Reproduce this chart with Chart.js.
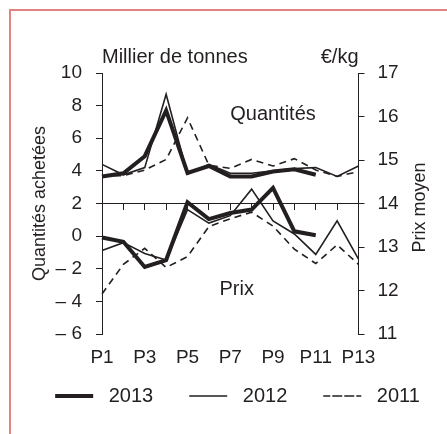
<!DOCTYPE html>
<html>
<head>
<meta charset="utf-8">
<script src="https://cdn.jsdelivr.net/npm/chart.js@4/dist/chart.umd.min.js"></script>
<style>
    body { margin: 0; background: #fff; }
    #wrap { position: relative; width: 447px; height: 434px; overflow: hidden; }
    #frame { position: absolute; left: 9px; top: 9px; width: 600px; height: 600px;
             border-left: 2px solid #e4827f; border-top: 2px solid #e4827f; }
    canvas { position: absolute; left: 0; top: 0; }
</style>
</head>
<body>
<div id="wrap">
    <div id="frame"></div>
    <canvas id="chart" width="447" height="434"></canvas>
</div>
<script>
// periodes
const periods = ['P1', 'P2', 'P3', 'P4', 'P5', 'P6', 'P7', 'P8', 'P9', 'P10', 'P11', 'P12', 'P13'];

// Quantites achetees (millier de tonnes) - axe gauche
const qty2013 = [3.66, 3.85, 4.9, 7.7, 3.87, 4.3, 3.66, 3.66, 3.96, 4.1, 3.76, null, null];
const qty2012 = [4.4, 3.76, 4.2, 8.7, 3.8, 4.4, 3.85, 3.85, 4.0, 4.15, 4.2, 3.66, 4.3];
const qty2011 = [3.7, 3.7, 4.05, 4.7, 7.25, 4.35, 4.15, 4.7, 4.3, 4.75, 4.05, 3.66, 3.95];

// Prix moyen (EUR/kg) - axe droit
const prix2013 = [13.22, 13.12, 12.54, 12.7, 14.03, 13.64, 13.78, 13.86, 14.36, 13.36, 13.27, null, null];
const prix2012 = [12.92, 13.1, 12.85, 12.7, 13.86, 13.55, 13.72, 14.33, 13.6, 13.3, 12.83, 13.6, 12.72];
const prix2011 = [11.92, 12.6, 12.97, 12.53, 12.78, 13.47, 13.65, 13.8, 13.48, 12.95, 12.62, 13.05, 12.6];

const years = ['2013', '2012', '2011'];

const INK = '#231f20';
const FONT = "'Liberation Sans', Arial, sans-serif";

const styles = [
    { borderWidth: 4, borderDash: [] },
    { borderWidth: 1.6, borderDash: [] },
    { borderWidth: 1.6, borderDash: [7, 5] }
];

function makeSet(label, data, axis, st) {
    return {
        label: label,
        data: data,
        yAxisID: axis,
        borderColor: INK,
        backgroundColor: 'transparent',
        borderWidth: st.borderWidth,
        borderDash: st.borderDash,
        pointRadius: 0,
        tension: 0,
        fill: false
    };
}

const datasets = [
    makeSet(years[0], qty2013, 'y', styles[0]),
    makeSet(years[1], qty2012, 'y', styles[1]),
    makeSet(years[2], qty2011, 'y', styles[2]),
    makeSet(years[0], prix2013, 'y1', styles[0]),
    makeSet(years[1], prix2012, 'y1', styles[1]),
    makeSet(years[2], prix2011, 'y1', styles[2])
];

// textes libres (titres, etiquettes)
const textPlugin = {
    id: 'texts',
    afterDraw(chart) {
        const ctx = chart.ctx;
        const a = chart.chartArea;
        const sx = chart.scales.x, sy = chart.scales.y;
        const midY = (a.top + a.bottom) / 2;
        ctx.save();
        ctx.fillStyle = INK;
        ctx.textBaseline = 'middle';

        ctx.font = '20px ' + FONT;
        ctx.textAlign = 'left';
        ctx.fillText('Millier de tonnes', a.left, a.top - 16);
        ctx.textAlign = 'right';
        ctx.fillText('€/kg', a.right, a.top - 16);

        ctx.textAlign = 'center';
        ctx.fillText('Quantités', sx.getPixelForValue(8), sy.getPixelForValue(7.45));
        ctx.fillText('Prix', sx.getPixelForValue(6.3), sy.getPixelForValue(-3.3));

        ctx.font = '18px ' + FONT;
        ctx.translate(a.left - 62, midY);
        ctx.rotate(-Math.PI / 2);
        ctx.fillText('Quantités achetées', 0, 0);
        ctx.restore();

        ctx.save();
        ctx.fillStyle = INK;
        ctx.textBaseline = 'middle';
        ctx.textAlign = 'center';
        ctx.font = '18px ' + FONT;
        ctx.translate(a.right + 62, midY + 4);
        ctx.rotate(-Math.PI / 2);
        ctx.fillText('Prix moyen', 0, 0);
        ctx.restore();
    }
};

const tickFont = { family: FONT, size: 19 };

new Chart(document.getElementById('chart'), {
    type: 'line',
    data: { labels: periods, datasets: datasets },
    options: {
        responsive: false,
        animation: false,
        layout: { padding: { top: 73, bottom: 18, left: 16, right: -12 } },
        plugins: {
            tooltip: { enabled: false },
            legend: {
                position: 'bottom',
                title: { display: true, text: '', padding: 0, font: { size: 10, lineHeight: 1.6 } },
                labels: {
                    generateLabels: chart => Chart.defaults.plugins.legend.labels.generateLabels(chart)
                        .filter(item => item.datasetIndex < 3)
                        .map(item => Object.assign(item, { text: ' ' + item.text })),
                    boxWidth: 38,
                    boxHeight: 0,
                    padding: 36,
                    color: INK,
                    font: { family: FONT, size: 20 }
                }
            }
        },
        scales: {
            x: {
                type: 'category',
                position: { y: -6 },
                offset: false,
                grid: { display: false, drawTicks: false },
                border: { display: false },
                ticks: {
                    autoSkip: false,
                    maxRotation: 0,
                    padding: 12,
                    color: INK,
                    font: tickFont,
                    callback: (v, i) => (i % 2 === 0 ? periods[i] : '')
                }
            },
            xMid: {
                type: 'category',
                axis: 'x',
                position: { y: 2 },
                offset: false,
                grid: { drawOnChartArea: false, drawTicks: true, tickLength: 6, color: INK },
                border: { display: true, color: INK, width: 1 },
                ticks: { display: false }
            },
            y: {
                position: 'left',
                min: -6,
                max: 10,
                ticks: {
                    stepSize: 2,
                    autoSkip: false,
                    padding: 14,
                    color: INK,
                    font: tickFont,
                    callback: v => (v < 0 ? '– ' + Math.abs(v) : v)
                },
                grid: { drawOnChartArea: false, drawTicks: true, tickLength: 6, color: INK },
                border: { display: true, color: INK, width: 1 },
                afterFit: s => { s.width = 86; }
            },
            y1: {
                position: 'right',
                min: 11,
                max: 17,
                ticks: { stepSize: 1, autoSkip: false, padding: 13, color: INK, font: tickFont },
                grid: { drawOnChartArea: false, drawTicks: true, tickLength: 6, color: INK },
                border: { display: true, color: INK, width: 1 },
                afterFit: s => { s.width = 100.5; }
            }
        }
    },
    plugins: [textPlugin]
});
</script>
</body>
</html>
